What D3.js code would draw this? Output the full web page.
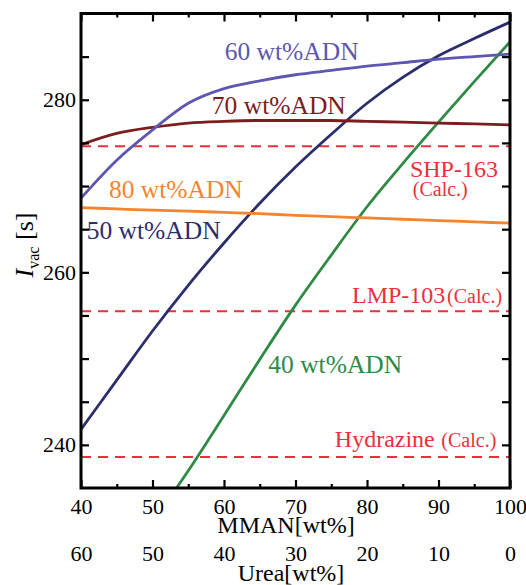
<!DOCTYPE html>
<html>
<head>
<meta charset="utf-8">
<script src="https://cdn.jsdelivr.net/npm/d3@7"></script>
<style>
  body { margin: 0; background: #fff; }
  svg text { font-family: "Liberation Serif", "Times New Roman", serif; }
</style>
</head>
<body>
<svg id="chart" width="526" height="585"></svg>
<script>
// MMAN content [wt%] (x axis), Urea = 100 - MMAN
var mman = [40, 45, 50, 55, 60, 65, 70, 75, 80, 85, 90, 95, 100];
var mmanTicks = [40, 50, 60, 70, 80, 90, 100];
var ivacTicks = [240, 260, 280];

// Ivac [s] for each ADN content
var adn40 = [null, null, 231.0, 237.0, 243.4, 249.9, 256.2, 262.0, 267.6, 272.6, 277.4, 282.1, 286.7];
var adn50 = [241.8, 247.5, 253.2, 258.5, 263.4, 268.0, 272.2, 276.0, 279.6, 282.6, 285.1, 287.1, 289.0];
var adn60 = [268.6, 273.0, 276.5, 279.6, 281.3, 282.2, 282.9, 283.4, 283.9, 284.3, 284.7, 285.0, 285.3];
var adn70 = [274.8, 276.1, 276.8, 277.3, 277.5, 277.6, 277.6, 277.6, 277.5, 277.4, 277.3, 277.2, 277.1];
var adn80 = [267.5, 267.35, 267.2, 267.1, 266.95, 266.8, 266.6, 266.45, 266.3, 266.15, 266.0, 265.85, 265.7];

// calculated reference propellants
var refNames = ["Hydrazine", "LMP-103", "SHP-163"];
var refValues = [238.6, 255.5, 274.6];

var series = [
	{name: "40 wt%ADN", values: adn40, color: "#2f8a45", lx: 66.2, ly: 248.3},
	{name: "50 wt%ADN", values: adn50, color: "#2c2e6c", lx: 40.8, ly: 263.9},
	{name: "80 wt%ADN", values: adn80, color: "#f4852e", lx: 43.9, ly: 268.6},
	{name: "70 wt%ADN", values: adn70, color: "#7b1d1f", lx: 58.3, ly: 278.4},
	{name: "60 wt%ADN", values: adn60, color: "#5d57b1", lx: 60.1, ly: 284.6}
];

var red = "#ec2f3b";
var svg = d3.select("#chart");

var x = d3.scaleLinear().domain([40, 100]).range([81, 510]);
var y = d3.scaleLinear().domain([235, 290]).range([488, 13.5]);

var minorX = d3.range(45, 100, 10);
var minorY = d3.range(235, 290, 10);

svg.append("clipPath").attr("id", "plotclip")
	.append("rect")
	.attr("x", x(40)).attr("y", y(290))
	.attr("width", x(100) - x(40)).attr("height", y(235) - y(290));

// reference dashed lines
svg.append("g").selectAll("line")
	.data(refValues)
	.enter().append("line")
	.attr("x1", x(40)).attr("x2", x(100))
	.attr("y1", function(d){ return y(d); })
	.attr("y2", function(d){ return y(d); })
	.style("stroke", red)
	.style("stroke-width", 2)
	.attr("stroke-dasharray", "10,7");

// curves
var line = d3.line()
	.defined(function(d){ return d[1] != null; })
	.x(function(d){ return x(d[0]); })
	.y(function(d){ return y(d[1]); })
	.curve(d3.curveMonotoneX);

var plot = svg.append("g").attr("clip-path", "url(#plotclip)");
series.forEach(function(s){
	var pts = mman.map(function(m, i){ return [m, s.values[i]]; });
	plot.append("path")
		.attr("d", line(pts))
		.style("fill", "none")
		.style("stroke", s.color)
		.style("stroke-width", 2.8);
});

// curve labels
series.forEach(function(s){
	svg.append("text")
		.attr("x", x(s.lx))
		.attr("y", y(s.ly))
		.style("font-size", "25.5px")
		.style("fill", s.color)
		.text(s.name);
});

// reference labels
var calc = function(t, xv, yv){
	t.append("tspan").attr("x", x(xv)).attr("y", y(yv))
		.style("font-size", "20px").text("(Calc.)");
};
var t = svg.append("text").style("fill", red);
t.append("tspan").attr("x", x(86.0)).attr("y", y(271.1)).style("font-size", "24px").text(refNames[2]);
calc(t, 86.4, 268.9);
t = svg.append("text").style("fill", red);
t.append("tspan").attr("x", x(77.9)).attr("y", y(256.5)).style("font-size", "24px").text(refNames[1]);
calc(t, 91.2, 256.5);
t = svg.append("text").style("fill", red);
t.append("tspan").attr("x", x(75.5)).attr("y", y(239.8)).style("font-size", "24px").text(refNames[0]);
calc(t, 90.4, 239.8);

// axes
function styleAxis(g){
	g.select(".domain").remove();
	g.selectAll(".tick line").style("stroke", "#000").style("stroke-width", 2.2);
	g.selectAll("text").style("font-size", "22px").style("fill", "#000")
		.style("font-family", "'Liberation Serif', 'Times New Roman', serif");
}

svg.append("g").attr("transform", "translate(0," + y(235) + ")")
	.call(d3.axisBottom(x).tickValues(mmanTicks).tickSize(-8).tickPadding(10).tickFormat(d3.format("d")))
	.call(styleAxis);
svg.append("g").attr("transform", "translate(0," + y(235) + ")")
	.call(d3.axisBottom(x).tickValues(minorX).tickSize(-4).tickFormat(""))
	.call(styleAxis);
// second x axis: Urea
svg.append("g").attr("transform", "translate(0," + y(235) + ")")
	.call(d3.axisBottom(x).tickValues(mmanTicks).tickSize(0).tickPadding(57).tickFormat(function(d){ return 100 - d; }))
	.call(styleAxis);

svg.append("g").attr("transform", "translate(0," + y(290) + ")")
	.call(d3.axisTop(x).tickValues(mmanTicks).tickSize(-8).tickFormat(""))
	.call(styleAxis);
svg.append("g").attr("transform", "translate(0," + y(290) + ")")
	.call(d3.axisTop(x).tickValues(minorX).tickSize(-4).tickFormat(""))
	.call(styleAxis);

svg.append("g").attr("transform", "translate(" + x(40) + ",0)")
	.call(d3.axisLeft(y).tickValues(ivacTicks).tickSize(-8).tickPadding(5))
	.call(styleAxis);
svg.append("g").attr("transform", "translate(" + x(40) + ",0)")
	.call(d3.axisLeft(y).tickValues(d3.range(245, 290, 10).concat([250, 270])).tickSize(-8).tickFormat(""))
	.call(styleAxis);
svg.append("g").attr("transform", "translate(" + x(100) + ",0)")
	.call(d3.axisRight(y).tickValues(d3.range(240, 290, 5)).tickSize(-8).tickFormat(""))
	.call(styleAxis);

// frame
svg.append("rect")
	.attr("x", x(40)).attr("y", y(290))
	.attr("width", x(100) - x(40)).attr("height", y(235) - y(290))
	.style("fill", "none").style("stroke", "#000").style("stroke-width", 3);

// axis titles
svg.append("text").attr("x", 286).attr("y", 533)
	.attr("text-anchor", "middle").style("font-size", "24px").text("MMAN[wt%]");
svg.append("text").attr("x", 291).attr("y", 581)
	.attr("text-anchor", "middle").style("font-size", "24px").text("Urea[wt%]");

var yl = svg.append("text")
	.attr("transform", "translate(33,245) rotate(-90)")
	.attr("text-anchor", "middle")
	.style("font-size", "26px");
yl.append("tspan").style("font-style", "italic").text("I");
yl.append("tspan").attr("dy", 6).style("font-size", "16px").text("vac");
yl.append("tspan").attr("dy", -6).text(" [s]");
</script>
</body>
</html>
